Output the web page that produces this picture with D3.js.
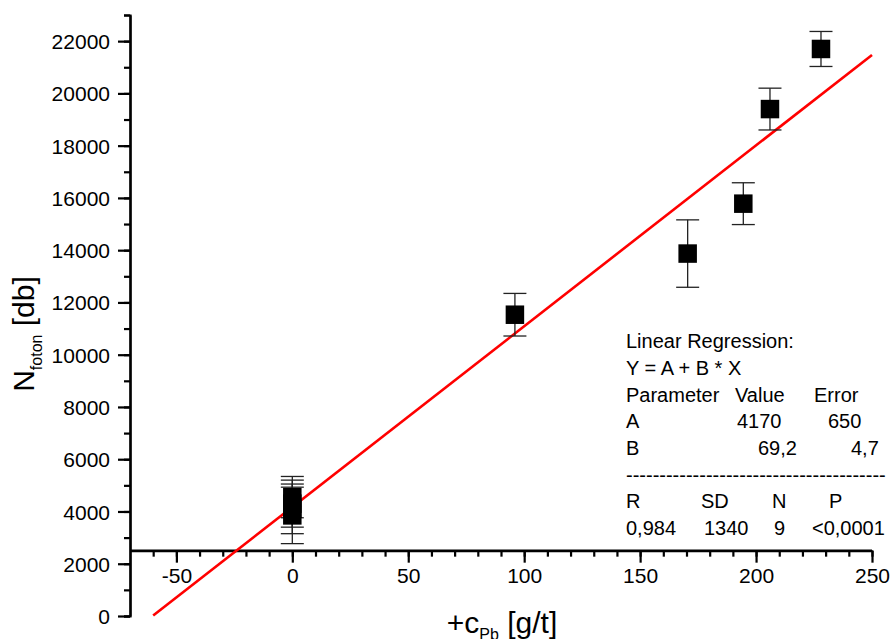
<!DOCTYPE html>
<html lang="en">
  <head>
    <meta charset="UTF-8" />
    <title>Nfoton vs cPb</title>
    <style>
      body {
        margin: 0;
        background: #fff;
      }
      svg text {
        font-family: "Liberation Sans", Arial, sans-serif;
        fill: #000;
      }
      .err {
        stroke: #222;
        stroke-width: 1.3;
      }
      .fit {
        stroke: #ff0000;
        stroke-width: 2.6;
        fill: none;
      }
    </style>
    <script src="https://cdn.jsdelivr.net/npm/d3@7"></script>
  </head>
  <body>
    <div class="chart-box"></div>
    <script>
      // measured points (x = added Pb conc, y = photon count)
      const xValues = [0, 0, 0, 0, 96, 170.5, 194.5, 206, 228];
      const yValues = [4550, 4300, 4100, 3850, 11530, 13870, 15780, 19400, 21700];
      const yErrors = [790, 900, 950, 1080, 815, 1290, 800, 800, 670];

      // linear fit Y = A + B * X
      const interceptA = 4170;
      const slopeB = 69.2;
      const fitRange = [-60, 250];

      const xTicks = [-50, 0, 50, 100, 150, 200, 250];
      const yTicks = [0, 2000, 4000, 6000, 8000, 10000, 12000, 14000, 16000, 18000, 20000, 22000];

      const statsLines = ["Linear Regression:", "Y = A + B * X"];
      const paramHeader = ["Parameter", "Value", "Error"];
      const paramRows = [
        ["A", "4170", "650"],
        ["B", "69,2", "4,7"],
      ];
      const fitHeader = ["R", "SD", "N", "P"];
      const fitValues = ["0,984", "1340", "9", "<0,0001"];

      function styleAxis(g) {
        g.selectAll("path.domain").attr("stroke", "#000").attr("stroke-width", 2.2);
        g.selectAll(".tick line").attr("stroke", "#000").attr("stroke-width", 2.2);
      }

      function init() {
        const W = 892,
          H = 639;

        const svg = d3
          .select(".chart-box")
          .append("svg")
          .attr("width", W)
          .attr("height", H);

        const x = d3.scaleLinear().domain([-70, 250]).range([130, 872]);
        const y = d3.scaleLinear().domain([0, 23000]).range([616, 15]);
        const plain = (d) => String(d);

        // y axis: minor ticks, then major ticks in their own group
        svg
          .append("g")
          .attr("transform", "translate(" + x(-70) + ",0)")
          .call(d3.axisLeft(y).tickValues(d3.range(0, 23001, 1000)).tickSize(6).tickFormat(""))
          .call(styleAxis);
        const gy = svg
          .append("g")
          .attr("transform", "translate(" + x(-70) + ",0)")
          .call(d3.axisLeft(y).tickValues(yTicks).tickSize(12).tickPadding(8).tickSizeOuter(0).tickFormat(plain))
          .call(styleAxis);
        gy.selectAll("text").attr("font-size", 21).attr("dy", "0.36em");

        // x axis, crossing at y = 2500
        svg
          .append("g")
          .attr("transform", "translate(0," + y(2500) + ")")
          .call(d3.axisBottom(x).tickValues(d3.range(-60, 251, 10)).tickSize(6).tickFormat("").tickSizeOuter(0))
          .call(styleAxis);
        const gx = svg
          .append("g")
          .attr("transform", "translate(0," + y(2500) + ")")
          .call(d3.axisBottom(x).tickValues(xTicks).tickSize(12).tickPadding(5).tickSizeOuter(0).tickFormat(plain))
          .call(styleAxis);
        gx.selectAll("text").attr("font-size", 21);
        gx.select("path.domain").attr("d", "M" + x(-70) + ",0H" + x(250));

        // axis titles
        const ty = svg
          .append("text")
          .attr("transform", "translate(34,334) rotate(-90)")
          .attr("text-anchor", "middle")
          .attr("font-size", 30);
        ty.append("tspan").text("N");
        ty.append("tspan").attr("font-size", 16).attr("dy", 8).text("foton");
        ty.append("tspan").attr("dy", -8).text(" [db]");

        const tx = svg
          .append("text")
          .attr("x", 502)
          .attr("y", 633)
          .attr("text-anchor", "middle")
          .attr("font-size", 30);
        tx.append("tspan").text("+c");
        tx.append("tspan").attr("font-size", 16).attr("dy", 7).text("Pb");
        tx.append("tspan").attr("dy", -7).text(" [g/t]");

        // regression line
        svg
          .append("line")
          .attr("class", "fit")
          .attr("x1", x(fitRange[0]))
          .attr("y1", y(interceptA + slopeB * fitRange[0]))
          .attr("x2", x(fitRange[1]))
          .attr("y2", y(interceptA + slopeB * fitRange[1]));

        // error bars + squares
        const pts = xValues.map((v, i) => ({ x: v, y: yValues[i], e: yErrors[i] }));
        const capW = 11.5,
          sq = 18.5;
        const eb = svg.append("g").selectAll("g").data(pts).enter().append("g");
        eb.append("line")
          .attr("class", "err")
          .attr("x1", (d) => x(d.x))
          .attr("x2", (d) => x(d.x))
          .attr("y1", (d) => y(d.y + d.e))
          .attr("y2", (d) => y(d.y - d.e));
        eb.append("line")
          .attr("class", "err")
          .attr("x1", (d) => x(d.x) - capW)
          .attr("x2", (d) => x(d.x) + capW)
          .attr("y1", (d) => y(d.y + d.e))
          .attr("y2", (d) => y(d.y + d.e));
        eb.append("line")
          .attr("class", "err")
          .attr("x1", (d) => x(d.x) - capW)
          .attr("x2", (d) => x(d.x) + capW)
          .attr("y1", (d) => y(d.y - d.e))
          .attr("y2", (d) => y(d.y - d.e));

        svg
          .append("g")
          .selectAll("rect")
          .data(pts)
          .enter()
          .append("rect")
          .attr("x", (d) => x(d.x) - sq / 2)
          .attr("y", (d) => y(d.y) - sq / 2)
          .attr("width", sq)
          .attr("height", sq)
          .attr("fill", "#000");

        // regression stats box
        const box = svg.append("g").attr("font-size", 20);
        const rowY = [348, 375, 401.5, 428, 455, 481.5, 508, 535];
        const put = (t, px, py) => box.append("text").attr("x", px).attr("y", py).text(t);

        statsLines.forEach((t, i) => put(t, 626, rowY[i]));
        [626, 735, 814].forEach((px, j) => put(paramHeader[j], px, rowY[2]));
        [
          [626, 737, 828],
          [626, 758, 851],
        ].forEach((cols, r) => cols.forEach((px, j) => put(paramRows[r][j], px, rowY[3 + r])));
        put("-".repeat(39), 626, rowY[5]);
        [626, 701, 772, 829].forEach((px, j) => put(fitHeader[j], px, rowY[6]));
        [626, 704, 774, 812].forEach((px, j) => put(fitValues[j], px, rowY[7]));
      }

      init();
    </script>
  </body>
</html>
